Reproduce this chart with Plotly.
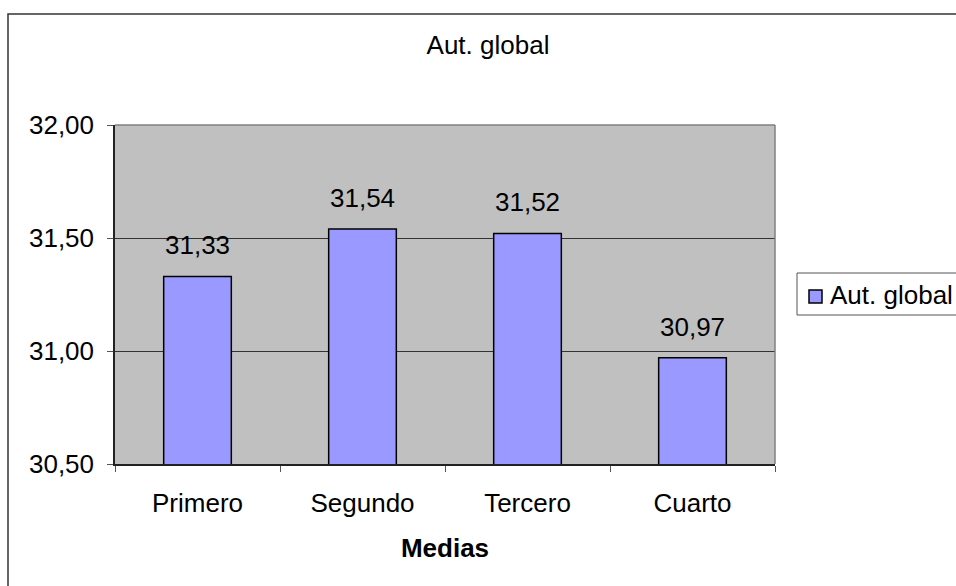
import plotly.graph_objects as go

categories = ["Primero", "Segundo", "Tercero", "Cuarto"]
values = [31.33, 31.54, 31.52, 30.97]
series_name = "Aut. global"
y_ticks = [30.5, 31.0, 31.5, 32.0]

FONT = "Liberation Sans, Arial, sans-serif"
FS = 26
BAR_COLOR = "#9999FF"

# plot-area geometry in pixels (used for paper-coordinate conversions)
L, R, T, B = 115, 775, 125, 464
PW, PH = R - L, B - T


def px(x):
    return (x - L) / PW


def py(y):
    return (B - y) / PH


fig = go.Figure()
fig.add_trace(go.Bar(
    x=categories, y=values, name=series_name,
    marker=dict(color=BAR_COLOR, line=dict(color="black", width=1.5)),
    width=0.41, showlegend=False,
))

# value labels above each bar
for c, v in zip(categories, values):
    fig.add_annotation(x=c, y=v, text=f"{v:.2f}".replace(".", ","),
                       showarrow=False, yanchor="bottom", yshift=14,
                       font=dict(size=FS, color="black", family=FONT))

fig.update_layout(
    width=956, height=586,
    margin=dict(l=L, r=956 - R, t=T, b=586 - B, autoexpand=False),
    paper_bgcolor="white", plot_bgcolor="#C0C0C0",
    separators=",.",
    font=dict(family=FONT, size=FS, color="black"),
    title=dict(text="Aut. global", x=488 / 956, xanchor="center",
               y=1 - 45 / 586, yanchor="middle",
               font=dict(size=FS, family=FONT, color="black")),
    showlegend=False,
    bargap=0.59,
)

fig.update_xaxes(
    showline=True, linecolor="#222222", linewidth=1.5,
    ticks="outside", ticklen=6, tickcolor="#555555", tickson="boundaries",
    ticklabelstandoff=15,
    showgrid=False, tickfont=dict(size=FS, family=FONT),
    title=dict(text="<b>Medias</b>", font=dict(size=FS, family=FONT), standoff=22),
)
fig.update_yaxes(
    range=[30.5, 32.0], tickvals=y_ticks, tickformat=".2f",
    showline=True, linecolor="#222222", linewidth=1.5,
    ticks="outside", ticklen=6, tickcolor="#555555",
    ticklabelstandoff=8,
    showgrid=True, gridcolor="#333333", gridwidth=1,
    zeroline=False, tickfont=dict(size=FS, family=FONT),
)

# grey frame on top and right of plot area
fig.add_shape(type="line", xref="paper", yref="paper", x0=0, x1=1, y0=1, y1=1,
              line=dict(color="#808080", width=1.5))
fig.add_shape(type="line", xref="paper", yref="paper", x0=1, x1=1, y0=0, y1=1,
              line=dict(color="#808080", width=1.5))
# outer chart border
fig.add_shape(type="rect", xref="paper", yref="paper",
              x0=px(8), x1=px(962), y0=py(592), y1=py(14),
              line=dict(color="#333333", width=1.5), fillcolor="rgba(0,0,0,0)")

# legend box with swatch and series name
fig.add_shape(type="rect", xref="paper", yref="paper",
              x0=px(797), x1=px(962), y0=py(315), y1=py(273),
              line=dict(color="#555555", width=1), fillcolor="white")
fig.add_shape(type="rect", xref="paper", yref="paper",
              x0=px(809), x1=px(822), y0=py(303), y1=py(290),
              line=dict(color="black", width=1.5), fillcolor=BAR_COLOR)
fig.add_annotation(xref="paper", yref="paper", x=px(828), y=py(295),
                   xanchor="left", yanchor="middle", text=series_name,
                   showarrow=False, font=dict(size=FS, family=FONT, color="black"))

fig.write_html("out.html")
